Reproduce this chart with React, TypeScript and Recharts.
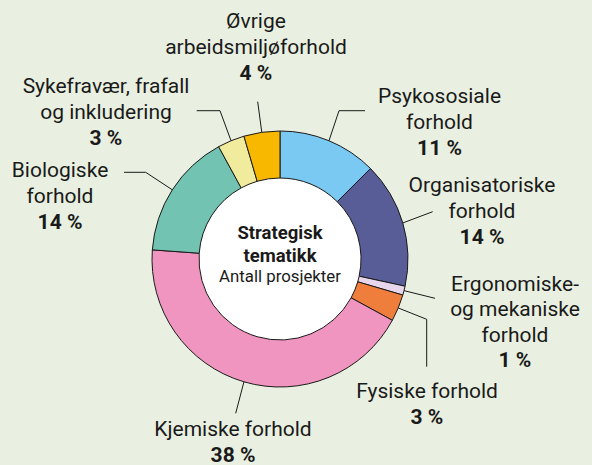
import { Cell, Pie, PieChart } from "recharts";

const categories = [
  "Psykososiale forhold",
  "Organisatoriske forhold",
  "Ergonomiske- og mekaniske forhold",
  "Fysiske forhold",
  "Kjemiske forhold",
  "Biologiske forhold",
  "Sykefravær, frafall og inkludering",
  "Øvrige arbeidsmiljøforhold",
];
const shares = [11, 14, 1, 3, 38, 14, 3, 4];
const labelLines = [
  ["Psykososiale", "forhold"],
  ["Organisatoriske", "forhold"],
  ["Ergonomiske-", "og mekaniske", "forhold"],
  ["Fysiske forhold"],
  ["Kjemiske forhold"],
  ["Biologiske", "forhold"],
  ["Sykefravær, frafall", "og inkludering"],
  ["Øvrige", "arbeidsmiljøforhold"],
];
const colors = ["#79c9f2", "#585d98", "#e8d6ec", "#ef7d3b", "#ef95bf", "#72c3b2", "#f1ec9d", "#f9b800"];
const centerTitle = ["Strategisk", "tematikk"];
const centerSub = "Antall prosjekter";

const W = 592;
const H = 465;
const FONT = "Roboto, 'Open Sans', sans-serif";
const INK = "#1a1a1a";
const LINE_H = 26;

// leader-line bend points and text anchors, chart pixels
const labelLayout = [
  { path: [[339, 110.7], [365, 110.7]], x: 439.5, y: 95.5 },
  { path: [[432.7, 211.7]], x: 482, y: 185 },
  { path: [[435, 298.3]], x: 515, y: 283.5, gap: 25.5 },
  { path: [[426.7, 319.3], [426.7, 366.7]], x: 427, y: 391 },
  { path: [[235.7, 413.3]], x: 233, y: 428.5 },
  { path: [[145.7, 172.3], [124, 172.3]], x: 60, y: 169.5 },
  { path: [[220, 110.7], [196.7, 110.7]], x: 106, y: 85.5 },
  { path: [[257.7, 101.7]], x: 256, y: 21 },
];

const data = categories.map((name, i) => ({ name, value: shares[i] }));

const RAD = Math.PI / 180;

function renderLabel(props: any) {
  const { cx, cy, midAngle, outerRadius, index } = props;
  const ax = cx + outerRadius * Math.cos(-midAngle * RAD);
  const ay = cy + outerRadius * Math.sin(-midAngle * RAD);
  const lay = labelLayout[index];
  const pts = [[ax, ay], ...lay.path].map((p) => p.join(",")).join(" ");
  const gap = lay.gap ?? LINE_H;
  const lines = labelLines[index];
  return (
    <g key={`lbl-${index}`}>
      <polyline points={pts} fill="none" stroke={INK} strokeWidth={1} />
      {lines.map((t, j) => (
        <text
          key={j}
          x={lay.x}
          y={lay.y + j * gap}
          textAnchor="middle"
          dominantBaseline="central"
          fontFamily={FONT}
          fontSize={21}
          fill={INK}
        >
          {t}
        </text>
      ))}
      <text
        x={lay.x}
        y={lay.y + lines.length * gap}
        textAnchor="middle"
        dominantBaseline="central"
        fontFamily={FONT}
        fontSize={21}
        fontWeight={700}
        fill={INK}
      >
        {`${shares[index]} %`}
      </text>
    </g>
  );
}

function renderCenter(props: any) {
  const { cx, cy } = props;
  return (
    <g key="center" fontFamily={FONT} fill={INK} textAnchor="middle">
      <text x={cx} y={cy - 26} dominantBaseline="central" fontSize={18.5} fontWeight={700}>
        {centerTitle[0]}
      </text>
      <text x={cx} y={cy - 3} dominantBaseline="central" fontSize={18.5} fontWeight={700}>
        {centerTitle[1]}
      </text>
      <text x={cx} y={cy + 17} dominantBaseline="central" fontSize={16.8}>
        {centerSub}
      </text>
    </g>
  );
}

export default function App() {
  return (
    <div style={{ position: "fixed", left: 0, top: 0, width: W, height: H, background: "#e9f0e1" }}>
      <PieChart width={W} height={H} margin={{ top: 0, right: 0, bottom: 0, left: 0 }}>
        <Pie
          data={[{ name: "center", value: 1 }]}
          dataKey="value"
          cx={280}
          cy={259}
          innerRadius={0}
          outerRadius={81}
          fill="#ffffff"
          stroke="none"
          label={renderCenter}
          labelLine={false}
          isAnimationActive={false}
        />
        <Pie
          data={data}
          dataKey="value"
          cx={280}
          cy={259}
          innerRadius={81}
          outerRadius={128}
          startAngle={90}
          endAngle={-270}
          stroke={INK}
          strokeWidth={1}
          label={renderLabel}
          labelLine={false}
          isAnimationActive={false}
        >
          {data.map((d, i) => (
            <Cell key={d.name} fill={colors[i]} />
          ))}
        </Pie>
      </PieChart>
    </div>
  );
}
